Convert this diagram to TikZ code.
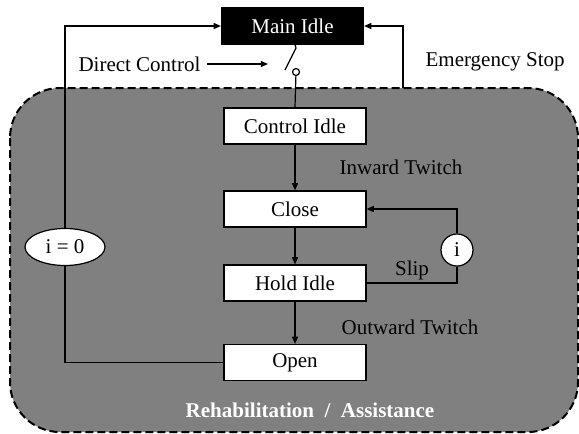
\documentclass[tikz,border=0pt]{standalone}
\usepackage{fontspec}
\setmainfont{Liberation Serif}
\usetikzlibrary{arrows.meta,shapes.geometric}
\definecolor{regiongray}{RGB}{128,128,128}
\begin{document}
\begin{tikzpicture}[
    x=0.5pt, y=-0.5pt,
    line width=0.6pt,
    font=\fontsize{10.5}{12}\selectfont,
    >={Triangle[length=3.6pt,width=3pt]},
    % State boxes: white with a thin black frame
    state/.style={
        rectangle,
        draw=black,
        fill=white,
        minimum width=71pt,
        minimum height=18pt,
        inner sep=0pt,
        },
    mainstate/.style={state, fill=black, text=white},
    counter/.style={ellipse, draw=black, fill=white, inner sep=0pt},
    % plain text next to the connectors
    tag/.style={inner sep=0pt},
    ]
    \useasboundingbox (0,0) rectangle (579,434);

    % Rehabilitation / Assistance region
    \draw[line width=1pt, dash pattern=on 4pt off 2pt, fill=regiongray,
        rounded corners=25pt] (10,88) rectangle (578,432);
    \node[text=white, font=\fontsize{10.5}{12}\selectfont\bfseries] (region)
        at (310,410) {Rehabilitation \ / \ Assistance};

    \node [mainstate] (main) at (292.5,26) {Main Idle};
    \node [state] (ctrl) at (295,126) {Control Idle};
    \node [state] (close) at (295,209) {Close};
    \node [state] (hold) at (295,283) {Hold Idle};
    \node [state] (open) at (295,362.5) {Open};

    \node [counter, minimum width=40pt, minimum height=18.5pt] (reset) at (65,247) {i = 0};
    \node [counter, circle, minimum size=16pt] (slipcount) at (457,250) {i};

    % switch between Main Idle and Control Idle
    \coordinate (swtop) at (296,48);
    \coordinate (swend) at (285,70);
    \node [circle, draw=black, fill=white, minimum size=3.5pt, inner sep=0pt] (contact) at (296,72) {};
    \draw (ctrl.north |- main.south) -- (swtop) -- (swend);
    \draw (contact) -- (ctrl.north);

    \node [tag, anchor=east] (direct) at (201,64) {Direct Control};
    \coordinate (dcend) at (268,64);
    \draw [->] ([xshift=3pt]direct.east) -- (dcend);

    \node [tag, anchor=west] (estop) at (425,62) {Emergency Stop};
    \coordinate (esbase) at (403,88);
    \draw [->] (esbase) |- (main.east);

    % transitions
    \draw [->] (ctrl) -- (close);
    \draw [->] (close) -- (hold);
    \draw [->] (hold) -- (open);
    \node [tag, anchor=west] (inward) at (339,167) {Inward Twitch};
    \node [tag, anchor=west] (outward) at (341,327) {Outward Twitch};

    \draw (hold.east) -| (slipcount.south);
    \draw [->] (slipcount.north) |- (close.east);
    \node [tag] (slip) at (412,270) {Slip};

    \draw (open.west) -| (reset.south);
    \draw [->] (reset.north) |- (main.west);

\end{tikzpicture}
\end{document}
